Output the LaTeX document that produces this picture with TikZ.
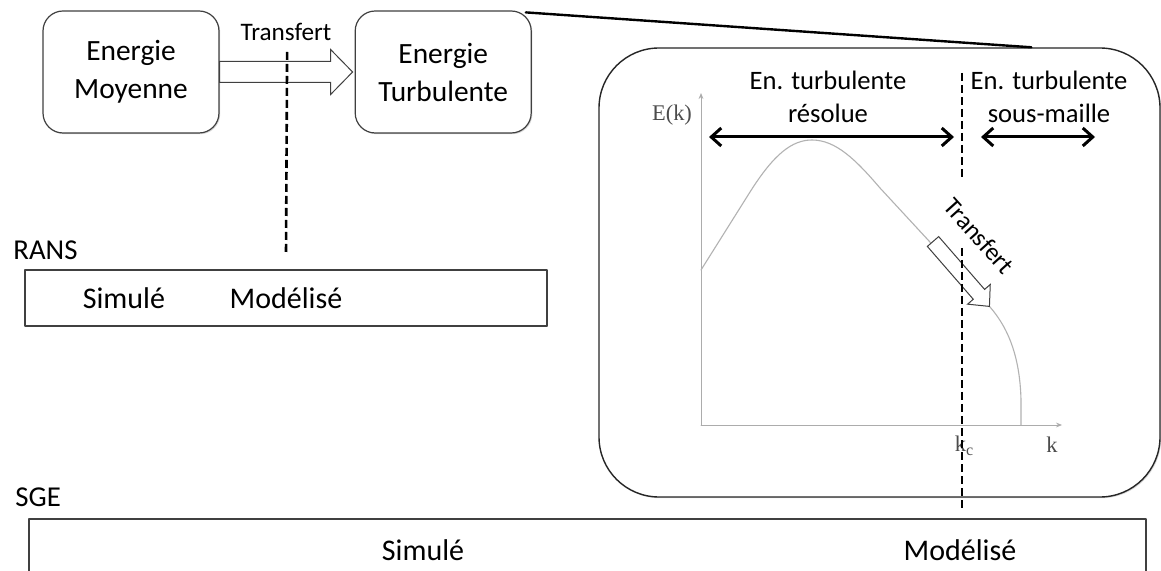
\documentclass[tikz,border=0pt]{standalone}
\usepackage{fontspec}
\setmainfont{Carlito}
\newfontfamily\timesfont{Liberation Serif}
\usetikzlibrary{positioning,calc,arrows.meta,shadows}

\begin{document}
\begin{tikzpicture}[x=0.5pt,y=-0.5pt, line join=round, line cap=round,
	ombre/.style={drop shadow={shadow xshift=0.6pt,shadow yshift=-0.6pt,opacity=0.15,fill=black}},
	boite/.style={draw=black!75, line width=0.6pt, rounded corners=10pt, fill=white, ombre,
		minimum width=88pt, minimum height=61pt, align=center,
		font=\fontsize{14.7}{19}\selectfont},
	bande/.style={draw=black!75, line width=0.6pt, fill=white, ombre, inner sep=0pt},
	panneau/.style={draw=black!85, line width=0.7pt, rounded corners=30pt, fill=white, ombre, inner sep=0pt},
	creux/.style={draw=black!75, fill=white, line width=0.5pt, line join=miter},
	coupure/.style={line width=1.3pt, dash pattern=on 4pt off 2pt, line cap=butt},
	loupe/.style={line width=1.2pt},
	axe/.style={gray!65, line width=0.5pt, -{Stealth[length=3pt,width=2.4pt]}},
	spectre/.style={gray!60, line width=0.55pt},
	plage/.style={line width=1.5pt, {Straight Barb[length=5pt,width=9pt]}-{Straight Barb[length=5pt,width=9pt]}},
	petit/.style={font=\fontsize{12.6}{15}\selectfont, inner sep=0pt},
	texte/.style={font=\fontsize{15}{18}\selectfont, inner sep=0pt},
	etiquette/.style={font=\fontsize{14.4}{17}\selectfont, inner sep=0pt},
	paneltxt/.style={font=\fontsize{13.3}{16.5}\selectfont, align=center, inner sep=0pt},
	serif/.style={font=\timesfont\fontsize{11.2}{13}\selectfont, text=black!70, inner sep=0pt}]
	\useasboundingbox (0,0) rectangle (1161,571);
	\clip (0,0) rectangle (1161,571);
	
	% energies et transfert
	\node[boite] (moy) at (131,72) {Energie\\Moyenne};
	\node[boite, right=67.5pt of moy] (turb) {Energie\\Turbulente};
	\draw[creux, shift={(moy.east)}] (0,-10.5) -- (111,-10.5) -- (111,-22.5) -- (133,0)
		-- (111,22.5) -- (111,10.5) -- (0,10.5) -- cycle;
	\coordinate (transfert) at ($(moy.east)!0.5!(turb.west)$);
	\node[petit] (transferttxt) at (286,32) {Transfert};
	
	% RANS
	\node[etiquette, anchor=west] (ransl) at (13,250) {RANS};
	\node[bande, minimum width=261pt, minimum height=28pt] (rans) at (286,298) {};
	\node[texte] (ranssim) at ($(rans.west)+(99.5,0)$) {Simulé};
	\node[texte] (ransmod) at (rans.center) {Modélisé};
	\draw[coupure] ($(transfert)+(0,-20)$) -- ($(rans.north)+(0,-14)$);
	
	% zoom sur le spectre
	\node[panneau, minimum width=280.5pt, minimum height=224.5pt] (panel) at (879.5,272.5) {};
	\draw[loupe] ($(turb.north east)+(-6,2)$) -- ($(panel.north west)!0.77!(panel.north east)$);
	
	\coordinate (O) at (701,425);
	\draw[axe] (O) -- (1062,425);
	\draw[axe] (O) -- (701,93);
	\node[serif] (Ek) at (672,115) {E(k)};
	\node[serif] (kc) at (964,446) {k\raisebox{-0.35ex}{\fontsize{8}{9}\selectfont c}};
	\node[serif] (kk) at (1052,445) {k};
	\draw[spectre] (701,270) -- (750,192) .. controls (774,154) and (792,140) .. (812,140)
		.. controls (836,140) and (856,160) .. (880,188) -- (990,307)
		.. controls (1010,330) and (1020,360) .. (1021,400) -- (1021,425);
	
	\coordinate (cascade) at (933,241.5);
	\draw[creux, shift={(cascade)}, rotate=-49] (0,-7.5) -- (70,-7.5) -- (70,-15) -- (86,0)
		-- (70,15) -- (70,7.5) -- (0,7.5) -- cycle;
	\node[petit, rotate=-48] (cascadetxt) at (979,236) {Transfert};
	\draw[coupure] (962,73) -- (962,177);
	\draw[coupure] (962,248) -- (962,510);
	
	\draw[plage] (709,137) -- (954,137);
	\draw[plage] (981,137) -- (1095,137);
	\node[paneltxt] (resolue) at (828,97) {En. turbulente\\résolue};
	\node[paneltxt] (sousmaille) at (1049,97) {En. turbulente\\sous-maille};
	
	% SGE
	\node[etiquette, anchor=west] (sgel) at (15,497) {SGE};
	\node[bande, minimum width=558.5pt, minimum height=35pt] (sge) at (587.5,554) {};
	\node[texte] (sgesim) at (423,550) {Simulé};
	\node[texte] (sgemod) at (960,550) {Modélisé};
\end{tikzpicture}
\end{document}
